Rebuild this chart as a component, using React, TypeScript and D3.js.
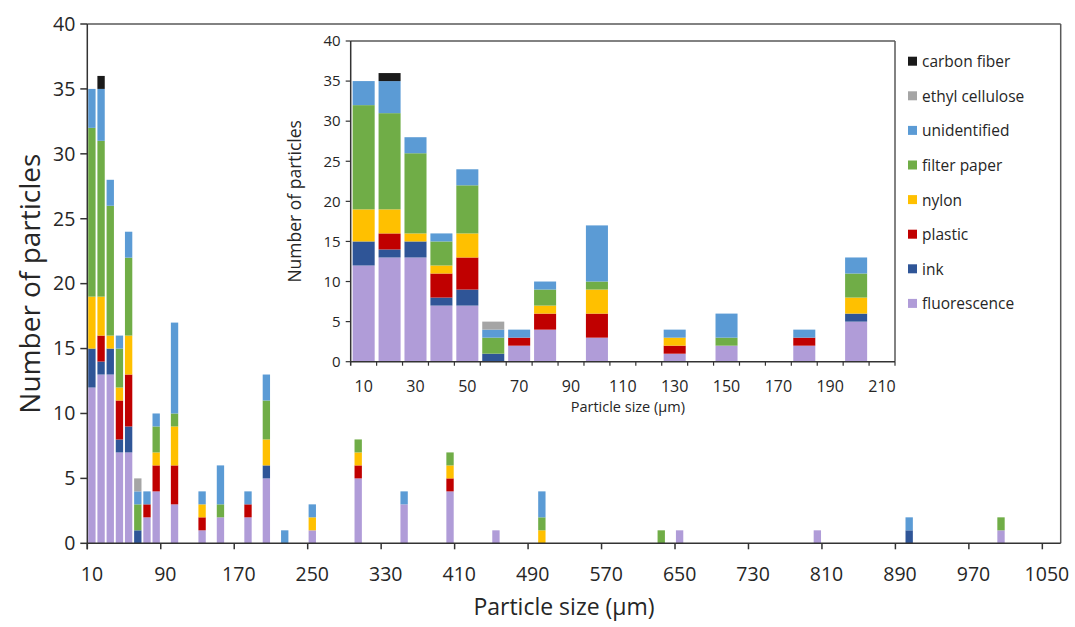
import React from "react";
import * as d3 from "d3";

// ---- data ----
const sizes = [10, 20, 30, 40, 50, 60, 70, 80, 100, 130, 150, 180, 200, 220, 250, 300, 350, 400, 450, 500, 630, 650, 800, 900, 1000];
const fluorescence = [12, 13, 13, 7, 7, 0, 2, 4, 3, 1, 2, 2, 5, 0, 1, 5, 3, 4, 1, 0, 0, 1, 1, 0, 1];
const ink = [3, 1, 2, 1, 2, 1, 0, 0, 0, 0, 0, 0, 1, 0, 0, 0, 0, 0, 0, 0, 0, 0, 0, 1, 0];
const plastic = [0, 2, 0, 3, 4, 0, 1, 2, 3, 1, 0, 1, 0, 0, 0, 1, 0, 1, 0, 0, 0, 0, 0, 0, 0];
const nylon = [4, 3, 1, 1, 3, 0, 0, 1, 3, 1, 0, 0, 2, 0, 1, 1, 0, 1, 0, 1, 0, 0, 0, 0, 0];
const filterPaper = [13, 12, 10, 3, 6, 2, 0, 2, 1, 0, 1, 0, 3, 0, 0, 1, 0, 1, 0, 1, 1, 0, 0, 0, 1];
const unidentified = [3, 4, 2, 1, 2, 1, 1, 1, 7, 1, 3, 1, 2, 1, 1, 0, 1, 0, 0, 2, 0, 0, 0, 1, 0];
const ethylCellulose = [0, 0, 0, 0, 0, 1, 0, 0, 0, 0, 0, 0, 0, 0, 0, 0, 0, 0, 0, 0, 0, 0, 0, 0, 0];
const carbonFiber = [0, 1, 0, 0, 0, 0, 0, 0, 0, 0, 0, 0, 0, 0, 0, 0, 0, 0, 0, 0, 0, 0, 0, 0, 0];

const seriesNames = ["fluorescence", "ink", "plastic", "nylon", "filter paper", "unidentified", "ethyl cellulose", "carbon fiber"];
const seriesValues = [fluorescence, ink, plastic, nylon, filterPaper, unidentified, ethylCellulose, carbonFiber];
const seriesColors = ["#B09CD8", "#2F5597", "#C00000", "#FFC000", "#70AD47", "#5B9BD5", "#A5A5A5", "#1A1A1A"];

const mainBins = d3.range(10, 1061, 10); // 10..1060 category bins
const mainTickLabels = [10, 90, 170, 250, 330, 410, 490, 570, 650, 730, 810, 890, 970, 1050];
const mainYTicks = [0, 5, 10, 15, 20, 25, 30, 35, 40];
const insetBins = d3.range(10, 211, 10); // 10..210
const insetTickLabels = [10, 30, 50, 70, 90, 110, 130, 150, 170, 190, 210];
const insetYTicks = [0, 5, 10, 15, 20, 25, 30, 35, 40];

const FONT = "'Open Sans', sans-serif";
const TXT = "#262626";

const rows = sizes.map((s, i) => {
  const r: any = { size: s };
  seriesNames.forEach((n, k) => (r[n] = seriesValues[k][i]));
  return r;
});
const stacked = d3.stack().keys(seriesNames)(rows as any);

export default function App() {
  // main chart
  const mL = 87.3, mR = 1060.7, mT = 24, mB = 543.3;
  const xM = d3.scaleBand<number>().domain(mainBins).range([mL, mR]).paddingInner(0.2).paddingOuter(0.1);
  const yM = d3.scaleLinear().domain([0, 40]).range([mB, mT]);
  const stepM = (mR - mL) / mainBins.length;

  // inset chart
  const iL = 350.7, iR = 895, iT = 41, iB = 361.7;
  const xI = d3.scaleBand<number>().domain(insetBins).range([iL, iR]).paddingInner(0.15).paddingOuter(0.075);
  const yI = d3.scaleLinear().domain([0, 40]).range([iB, iT]);
  const stepI = (iR - iL) / insetBins.length;

  return (
    <svg width={1075} height={627} style={{ position: "absolute", left: 0, top: 0, background: "#fff" }} fontFamily={FONT}>
      {/* main frame */}
      <line x1={mL} y1={mT} x2={mR} y2={mT} stroke="#595959" strokeWidth={1.5} />
      <line x1={mR} y1={mT} x2={mR} y2={mB} stroke="#595959" strokeWidth={1.5} />
      {/* main bars */}
      {stacked.map((layer, k) => (
        <g key={k} fill={seriesColors[k]}>
          {layer.map((d, i) =>
            d[1] - d[0] > 0 ? (
              <rect key={i} x={xM(sizes[i])!} width={xM.bandwidth()} y={yM(d[1])} height={yM(d[0]) - yM(d[1])} />
            ) : null
          )}
        </g>
      ))}
      {/* main axes */}
      <line x1={mL} y1={mB} x2={mR} y2={mB} stroke="#333" strokeWidth={1.5} />
      <line x1={mL} y1={mT} x2={mL} y2={mB + 6} stroke="#333" strokeWidth={1.5} />
      {mainYTicks.map((t) => (
        <g key={t}>
          <line x1={mL - 7} x2={mL} y1={yM(t)} y2={yM(t)} stroke="#333" strokeWidth={1.5} />
          <text x={mL - 12} y={yM(t)} dy="0.35em" textAnchor="end" fontSize={19.5} fill={TXT}>{t}</text>
        </g>
      ))}
      {mainTickLabels.map((t) => {
        const idx = mainBins.indexOf(t);
        const bx = mL + idx * stepM;
        return (
          <g key={t}>
            <line x1={bx} x2={bx} y1={mB} y2={mB + 6} stroke="#333" strokeWidth={1.5} />
            <text x={xM(t)! + xM.bandwidth() / 2} y={mB + 38} textAnchor="middle" fontSize={19.5} fill={TXT}>{t}</text>
          </g>
        );
      })}
      <text x={(mL + mR) / 2 - 10} y={615} textAnchor="middle" fontSize={23} fill={TXT}>Particle size (µm)</text>
      <text transform={`translate(40,${(mT + mB) / 2}) rotate(-90)`} textAnchor="middle" fontSize={28} fill={TXT}>Number of particles</text>

      {/* inset */}
      <rect x={iL} y={iT} width={iR - iL} height={iB - iT} fill="#fff" />
      <line x1={iL} y1={iT} x2={iR} y2={iT} stroke="#595959" strokeWidth={1.5} />
      <line x1={iR} y1={iT} x2={iR} y2={iB} stroke="#595959" strokeWidth={1.5} />
      {stacked.map((layer, k) => (
        <g key={k} fill={seriesColors[k]}>
          {layer.map((d, i) =>
            d[1] - d[0] > 0 && insetBins.includes(sizes[i]) ? (
              <rect key={i} x={xI(sizes[i])!} width={xI.bandwidth()} y={yI(d[1])} height={yI(d[0]) - yI(d[1])} />
            ) : null
          )}
        </g>
      ))}
      <line x1={iL} y1={iB} x2={iR} y2={iB} stroke="#333" strokeWidth={1.5} />
      <line x1={iL} y1={iT} x2={iL} y2={iB + 4} stroke="#333" strokeWidth={1.5} />
      {insetYTicks.map((t) => (
        <g key={t}>
          <line x1={iL - 5} x2={iL} y1={yI(t)} y2={yI(t)} stroke="#333" strokeWidth={1.2} />
          <text x={iL - 10} y={yI(t)} dy="0.35em" textAnchor="end" fontSize={15} fill={TXT}>{t}</text>
        </g>
      ))}
      {insetBins.map((b, idx) => (
        <line key={b} x1={iL + (idx + 1) * stepI} x2={iL + (idx + 1) * stepI} y1={iB} y2={iB + 4} stroke="#333" strokeWidth={1.2} />
      ))}
      {insetTickLabels.map((t) => (
        <text key={t} x={xI(t)! + xI.bandwidth() / 2} y={iB + 30} textAnchor="middle" fontSize={16} fill={TXT}>{t}</text>
      ))}
      <text x={(iL + iR) / 2 + 5} y={iB + 50} textAnchor="middle" fontSize={14.5} fill={TXT}>Particle size (µm)</text>
      <text transform={`translate(301,${(iT + iB) / 2}) rotate(-90)`} textAnchor="middle" fontSize={17.5} fill={TXT}>Number of particles</text>

      {/* legend */}
      {seriesNames.slice().reverse().map((n, j) => {
        const k = seriesNames.length - 1 - j;
        const cy = 61.7 + j * 34.6;
        return (
          <g key={n}>
            <rect x={908} y={cy - 5} width={9} height={9} fill={seriesColors[k]} />
            <text x={922} y={cy} dy="0.35em" fontSize={15.5} fill={TXT}>{n}</text>
          </g>
        );
      })}
    </svg>
  );
}
